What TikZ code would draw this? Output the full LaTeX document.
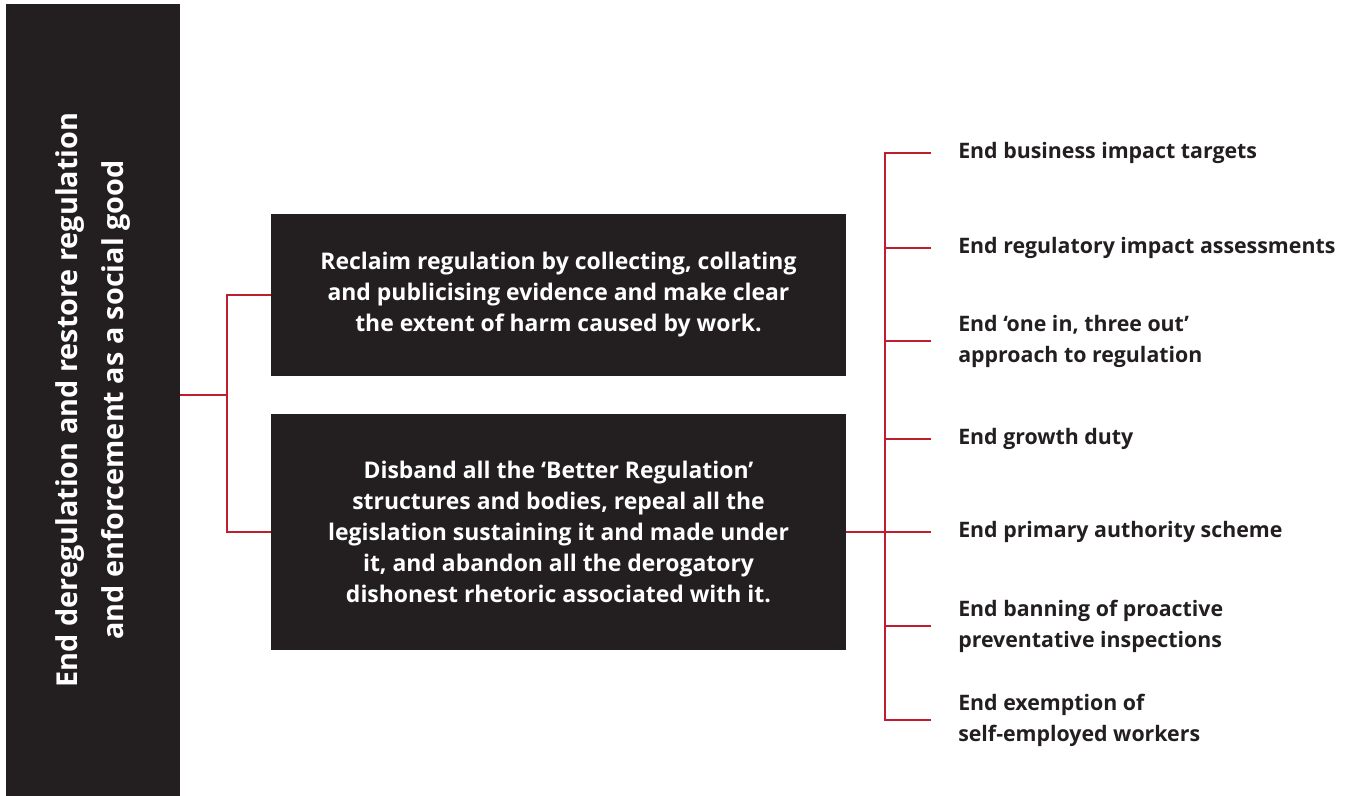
\documentclass[tikz,border=0pt]{standalone}
\usepackage{fontspec}
\setmainfont{Open Sans}[UprightFont=* Bold]
\usepackage{tikz}
\usetikzlibrary{positioning,calc}
\definecolor{BoxDark}{RGB}{35,31,32}
\definecolor{LinkRed}{RGB}{190,30,45}
\tikzset{
  goalbar/.style={fill=BoxDark, text=white, align=center, inner sep=0pt,
    font=\fontsize{21.6}{34.5}\selectfont},
  aimbox/.style={fill=BoxDark, text=white, align=center, inner sep=0pt,
    minimum width=431.25pt, font=\fontsize{17.2}{23.25}\selectfont},
  itemtext/.style={anchor=west, align=left, text=BoxDark, inner xsep=20.25pt,
    inner ysep=0pt, font=\fontsize{16}{23.25}\selectfont},
  link/.style={draw=LinkRed, line width=1.5pt}
}
\begin{document}
\begin{tikzpicture}[x=0.75pt, y=-0.75pt]
  \useasboundingbox (0,0) rectangle (1346,796);
  % goal on the left (rotated, so its south side faces right)
  \node[goalbar, rotate=90, minimum width=594pt, minimum height=130.5pt] (goal) at (93,400)
    {End deregulation and restore regulation\\and enforcement as a social good};
  % the two aims
  \node[aimbox, minimum height=121.5pt] (aim1) at (558.5,295)
    {Reclaim regulation by collecting, collating\\and publicising evidence and make clear\\the extent of harm caused by work.};
  \node[aimbox, minimum height=177pt] (aim2) at (558.5,532)
    {Disband all the `Better Regulation'\\structures and bodies, repeal all the\\legislation sustaining it and made under\\it, and abandon all the derogatory\\dishonest rhetoric associated with it.};
  % actions
  \node[itemtext] (i1) at (931,153) {End business impact targets};
  \node[itemtext] (i2) at (931,248) {End regulatory impact assessments};
  \node[itemtext] (i3) at (931,341) {End `one in, three out'\\approach to regulation};
  \node[itemtext] (i4) at (931,439) {End growth duty};
  \node[itemtext] (i5) at (931,532) {End primary authority scheme};
  \node[itemtext] (i6) at (931,626) {End banning of proactive\\preventative inspections};
  \node[itemtext] (i7) at (931,720) {End exemption of\\self-employed workers};
  % connectors
  \coordinate (jl) at (227,395);
  \coordinate (jr) at (885,532);
  \draw[link] (goal.south |- jl) -- (jl);
  \draw[link] (aim1.west) -| (jl);
  \draw[link] (aim2.west) -| (jl);
  \draw[link] (aim2.east) -- (jr);
  \foreach \i in {1,...,7}
    \draw[link] (i\i.west) -| (jr);
\end{tikzpicture}
\end{document}
